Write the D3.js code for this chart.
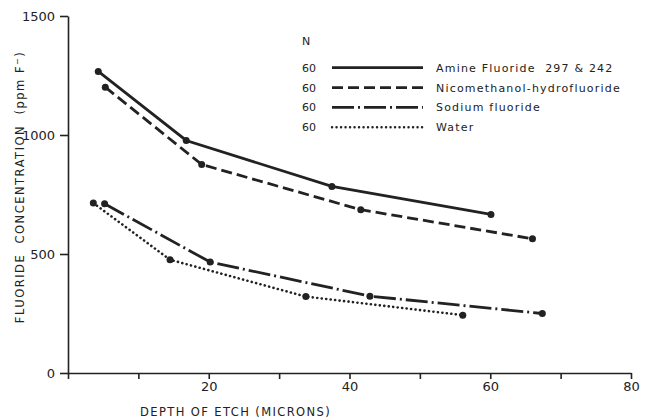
<script src="https://cdn.jsdelivr.net/npm/d3@7"></script>

<style type="text/css">
  body { margin: 0; background: #fff; }
  svg { width: 647px; height: 420px; }
  text { font-family: "DejaVu Sans", sans-serif; fill: #222; white-space: pre; }
  .axis path, .axis line { stroke: #222; stroke-width: 1.6px; }
  .axis text { font-size: 13px; fill: #222; font-family: "DejaVu Sans", sans-serif; }
</style>

<body></body>

<script>
  // data
  var seriesNames = ["Amine Fluoride  297 & 242", "Nicomethanol-hydrofluoride", "Sodium fluoride", "Water"];
  var seriesN = [60, 60, 60, 60];
  var amineX = [4.3, 16.8, 37.5, 60.1];
  var amineY = [1267, 977, 784, 666];
  var nicoX = [5.3, 19.0, 41.6, 66.0];
  var nicoY = [1201, 876, 686, 564];
  var sodiumX = [5.2, 20.2, 42.9, 67.4];
  var sodiumY = [711, 466, 323, 250];
  var waterX = [3.6, 14.5, 33.8, 56.1];
  var waterY = [714, 476, 321, 243];
  var xTicks = [0, 10, 20, 30, 40, 50, 60, 70, 80];
  var xTickLabels = ["", "", "20", "", "40", "", "60", "", "80"];
  var yTicks = [0, 500, 1000, 1500];

  // line styles per series
  var dashes = ["none", "11,5", "22,4,2,4", "0.1,4.4"];
  var caps = ["butt", "butt", "butt", "round"];

  var width = 647, height = 420;
  var svg = d3.select('body').append('svg');

  var xScale = d3.scaleLinear().domain([0, 80]).range([68, 631]);
  var yScale = d3.scaleLinear().domain([0, 1500]).range([373, 16]);

  var xs = [amineX, nicoX, sodiumX, waterX];
  var ys = [amineY, nicoY, sodiumY, waterY];
  var series = seriesNames.map(function(name, i) {
    return { name: name, n: seriesN[i], pts: xs[i].map(function(x, j) { return { x: x, y: ys[i][j] }; }) };
  });

  // axes
  var xAxis = d3.axisBottom(xScale)
    .tickValues(xTicks)
    .tickFormat(function(d, i) { return xTickLabels[i]; })
    .tickSize(6).tickPadding(3).tickSizeOuter(0);
  svg.append('g').attr('class', 'axis')
    .attr('transform', 'translate(0,' + yScale(0) + ')')
    .call(xAxis);

  var yAxis = d3.axisLeft(yScale)
    .tickValues(yTicks)
    .tickFormat(d3.format('d'))
    .tickSize(8).tickPadding(5).tickSizeOuter(0);
  svg.append('g').attr('class', 'axis')
    .attr('transform', 'translate(' + xScale(0) + ',0)')
    .call(yAxis);

  // axis titles
  svg.append('text')
    .attr('x', 140).attr('y', 416)
    .attr('font-size', '11.5px')
    .attr('letter-spacing', '1.4px')
    .text('DEPTH OF ETCH (MICRONS)');

  var yt = svg.append('text')
    .attr('transform', 'translate(24,187) rotate(-90)')
    .attr('text-anchor', 'middle')
    .attr('font-size', '11.5px')
    .attr('letter-spacing', '1.5px');
  yt.append('tspan').text('FLUORIDE  CONCENTRATION  (ppm F');
  yt.append('tspan').attr('baseline-shift', 'super').attr('font-size', '8px').text('\u2212');
  yt.append('tspan').text(')');

  // lines
  var line = d3.line().x(function(d) { return xScale(d.x); }).y(function(d) { return yScale(d.y); });

  series.forEach(function(s, i) {
    svg.append('path')
      .datum(s.pts)
      .attr('d', line)
      .attr('fill', 'none')
      .attr('stroke', '#222')
      .attr('stroke-width', i == 3 ? 2.6 : 2.8)
      .attr('stroke-dasharray', dashes[i])
      .attr('stroke-linecap', caps[i]);
    svg.selectAll('circle.s' + i)
      .data(s.pts)
      .enter().append('circle')
      .attr('class', 's' + i)
      .attr('cx', function(d) { return xScale(d.x); })
      .attr('cy', function(d) { return yScale(d.y); })
      .attr('r', 3.5)
      .attr('fill', '#222');
  });

  // legend
  var legend = svg.append('g');
  legend.append('text').attr('x', 302).attr('y', 45).attr('font-size', '11px').text('N');
  var rowY = [67.7, 87.7, 107.3, 127.3];
  series.forEach(function(s, i) {
    legend.append('text').attr('x', 302).attr('y', rowY[i] + 4)
      .attr('font-size', '11px').text(s.n);
    legend.append('line')
      .attr('x1', 332).attr('x2', 423)
      .attr('y1', rowY[i]).attr('y2', rowY[i])
      .attr('stroke', '#222')
      .attr('stroke-width', i == 3 ? 2.4 : 2.8)
      .attr('stroke-dasharray', dashes[i])
      .attr('stroke-linecap', caps[i]);
    legend.append('text').attr('x', 436).attr('y', rowY[i] + 4)
      .attr('font-size', '11px')
      .attr('letter-spacing', '1.2px')
      .text(s.name);
  });
</script>
